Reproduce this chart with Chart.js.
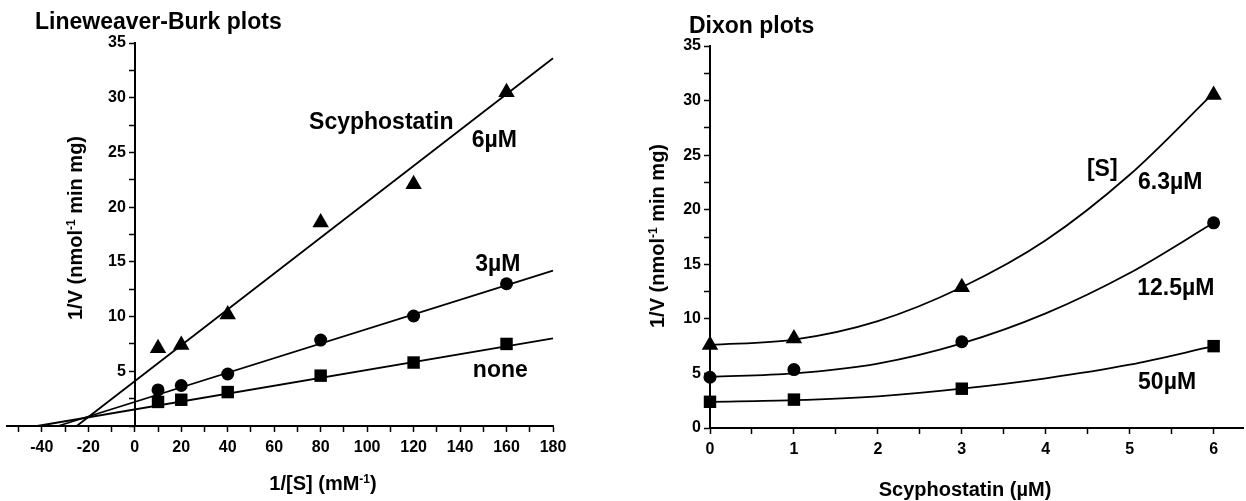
<!DOCTYPE html>
<html>
<head>
<meta charset="utf-8">
<script src="https://cdn.jsdelivr.net/npm/chart.js@4.4.0/dist/chart.umd.min.js"></script>
<style>
  body { margin: 0; background: #fff; width: 1246px; height: 501px; position: relative; overflow: hidden;
         font-family: "Liberation Sans", Arial, sans-serif; font-weight: bold; color: #000; }
  canvas { position: absolute; top: 0; }
  .t { position: absolute; white-space: nowrap; line-height: 1; transform: translate(-50%, -50%); }
  .rot { transform: translate(-50%, -50%) rotate(-90deg); }
  sup { font-size: 0.6em; vertical-align: 0.6em; line-height: 0; }
</style>
</head>
<body>
<canvas id="lb" width="620" height="501" style="left:-20px"></canvas>
<canvas id="dx" width="660" height="501" style="left:600px"></canvas>

<div class="t" style="left:35px;top:10px;font-size:23px;transform:none">Lineweaver-Burk plots</div>
<div class="t" style="left:689px;top:14px;font-size:23px;transform:none">Dixon plots</div>
<div class="t rot" style="left:75px;top:228px;font-size:20px">1/V (nmol<sup>-1</sup> min mg)</div>
<div class="t rot" style="left:657px;top:236px;font-size:20px">1/V (nmol<sup>-1</sup> min mg)</div>
<div class="t" style="left:323px;top:483px;font-size:20px">1/[S] (mM<sup>-1</sup>)</div>
<div class="t" style="left:965px;top:489px;font-size:20px">Scyphostatin (µM)</div>

<script>
// Lineweaver-Burk: 1/[S] (mM-1) vs 1/V
const lbX = [10, 20, 40, 80, 120, 160];
const lbNone = [2.2, 2.4, 3.1, 4.6, 5.8, 7.5];
const lb3uM = [3.3, 3.7, 4.75, 7.85, 10.05, 13.0];
const lb6uM = [7.1, 7.4, 10.2, 18.6, 22.1, 30.5];

// fitted lines, read at their two ends
const fitNoneX = [-42, 180], fitNoneY = [0, 8.0];
const fit3uMX = [-33, 180], fit3uMY = [0, 14.2];
const fit6uMX = [-25, 180], fit6uMY = [0, 33.6];

const lbXTicks = [-50, -40, -30, -20, -10, 0, 10, 20, 30, 40, 50, 60, 70, 80, 90, 100, 110, 120, 130, 140, 150, 160, 170, 180];
const lbXLabels = [-40, -20, 0, 20, 40, 60, 80, 100, 120, 140, 160, 180];
const lbYTicks = [0, 2.5, 5, 7.5, 10, 12.5, 15, 17.5, 20, 22.5, 25, 27.5, 30, 32.5, 35];
const lbYLabels = [5, 10, 15, 20, 25, 30, 35];

// Dixon: scyphostatin (uM) vs 1/V
const dxX = [0, 1, 3, 6];
const dx63 = [7.6, 8.2, 12.9, 30.5];
const dx125 = [4.65, 5.35, 7.9, 18.8];
const dx50 = [2.4, 2.6, 3.6, 7.5];

// fitted curves at each unit
const curveX = [0, 1, 2, 3, 4, 5, 6];
const curve63 = [7.6, 8.1, 9.8, 12.9, 17.2, 23.2, 30.7];
const curve125 = [4.7, 5.0, 5.9, 7.75, 10.5, 14.2, 18.8];
const curve50 = [2.4, 2.55, 2.9, 3.6, 4.55, 5.8, 7.5];

const dxXTicks = [0, 0.5, 1, 1.5, 2, 2.5, 3, 3.5, 4, 4.5, 5, 5.5, 6];
const dxXLabels = [0, 1, 2, 3, 4, 5, 6];
const dxYTicks = [0, 2.5, 5, 7.5, 10, 12.5, 15, 17.5, 20, 22.5, 25, 27.5, 30, 32.5, 35];
const dxYLabels = [0, 5, 10, 15, 20, 25, 30, 35];

const lbNotes = [
  { text: 'Scyphostatin', x: 75, y: 27.7 },
  { text: '6µM', x: 145, y: 26.1 },
  { text: '3µM', x: 146.5, y: 14.7 },
  { text: 'none', x: 145.5, y: 5.1 }
];
const dxNotes = [
  { text: '[S]', x: 4.49, y: 23.65 },
  { text: '6.3µM', x: 5.1, y: 22.45 },
  { text: '12.5µM', x: 5.09, y: 12.74 },
  { text: '50µM', x: 5.1, y: 4.12 }
];

const tickFont = { family: 'Liberation Sans', size: 16, weight: 'bold' };

function pts(xs, ys) {
  return xs.map((x, i) => ({ x: x, y: ys[i] }));
}

function marks(xs, ys, style, r) {
  return { data: pts(xs, ys), showLine: false, pointStyle: style, pointRadius: r,
           pointBackgroundColor: '#000', pointBorderColor: '#000', pointBorderWidth: 0, clip: false };
}

function line(xs, ys, curved) {
  return { data: pts(xs, ys), showLine: true, pointRadius: 0, borderColor: '#000', borderWidth: 1.8,
           cubicInterpolationMode: curved ? 'monotone' : 'default', clip: false };
}

function axis(ticks, labels, min, max, pos) {
  return {
    type: 'linear', min: min, max: max, position: pos,
    afterBuildTicks: s => { s.ticks = ticks.map(v => ({ value: v })); },
    ticks: { color: '#000', font: tickFont, padding: 7, autoSkip: false, maxRotation: 0,
             callback: v => labels.includes(v) ? String(v) : '' },
    grid: { drawOnChartArea: false, drawTicks: true, tickLength: 5, color: '#000', tickWidth: 1.5 },
    border: { display: true, color: '#000', width: 2 },
    title: { display: false }
  };
}

// the y axes sit at x = 0 inside the plot, so their labels are drawn here
function notesPlugin(notes, yLabels) {
  return {
    id: 'notes',
    afterDatasetsDraw(chart) {
      const ctx = chart.ctx;
      const xs = chart.scales.x, ys = chart.scales.y;
      ctx.save();
      ctx.fillStyle = '#000';
      ctx.textBaseline = 'middle';
      ctx.font = 'bold 16px "Liberation Sans", Arial, sans-serif';
      ctx.textAlign = 'right';
      yLabels.forEach(v => {
        ctx.fillText(String(v), xs.getPixelForValue(0) - 9, ys.getPixelForValue(v));
      });
      ctx.font = 'bold 23px "Liberation Sans", Arial, sans-serif';
      ctx.textAlign = 'left';
      notes.forEach(n => {
        ctx.fillText(n.text, xs.getPixelForValue(n.x), ys.getPixelForValue(n.y));
      });
      ctx.restore();
    }
  };
}

const baseOptions = {
  responsive: false,
  animation: false,
  devicePixelRatio: 1,
  plugins: { legend: { display: false }, tooltip: { enabled: false } }
};

new Chart(document.getElementById('lb'), {
  type: 'scatter',
  data: {
    datasets: [
      line(fitNoneX, fitNoneY),
      line(fit3uMX, fit3uMY),
      line(fit6uMX, fit6uMY),
      marks(lbX, lbNone, 'rect', 8.8),
      marks(lbX, lb3uM, 'circle', 6.5),
      marks(lbX, lb6uM, 'triangle', 9.5)
    ]
  },
  options: Object.assign({}, baseOptions, {
    layout: { padding: { left: 27, right: 47, top: 43, bottom: 75 } },
    scales: {
      x: axis(lbXTicks, lbXLabels, -55, 180, { y: 0 }),
      y: axis(lbYTicks, [], 0, 35, { x: 0 })
    }
  }),
  plugins: [notesPlugin(lbNotes, lbYLabels)]
});

new Chart(document.getElementById('dx'), {
  type: 'scatter',
  data: {
    datasets: [
      line(curveX, curve50, true),
      line(curveX, curve125, true),
      line(curveX, curve63, true),
      marks(dxX, dx50, 'rect', 8.8),
      marks(dxX, dx125, 'circle', 6.5),
      marks(dxX, dx63, 'triangle', 9.5)
    ]
  },
  options: Object.assign({}, baseOptions, {
    layout: { padding: { left: 110, right: 17, top: 46, bottom: 73 } },
    scales: {
      x: axis(dxXTicks, dxXLabels, 0, 6.35, { y: 0 }),
      y: axis(dxYTicks, [], 0, 35, { x: 0 })
    }
  }),
  plugins: [notesPlugin(dxNotes, dxYLabels)]
});
</script>
</body>
</html>
